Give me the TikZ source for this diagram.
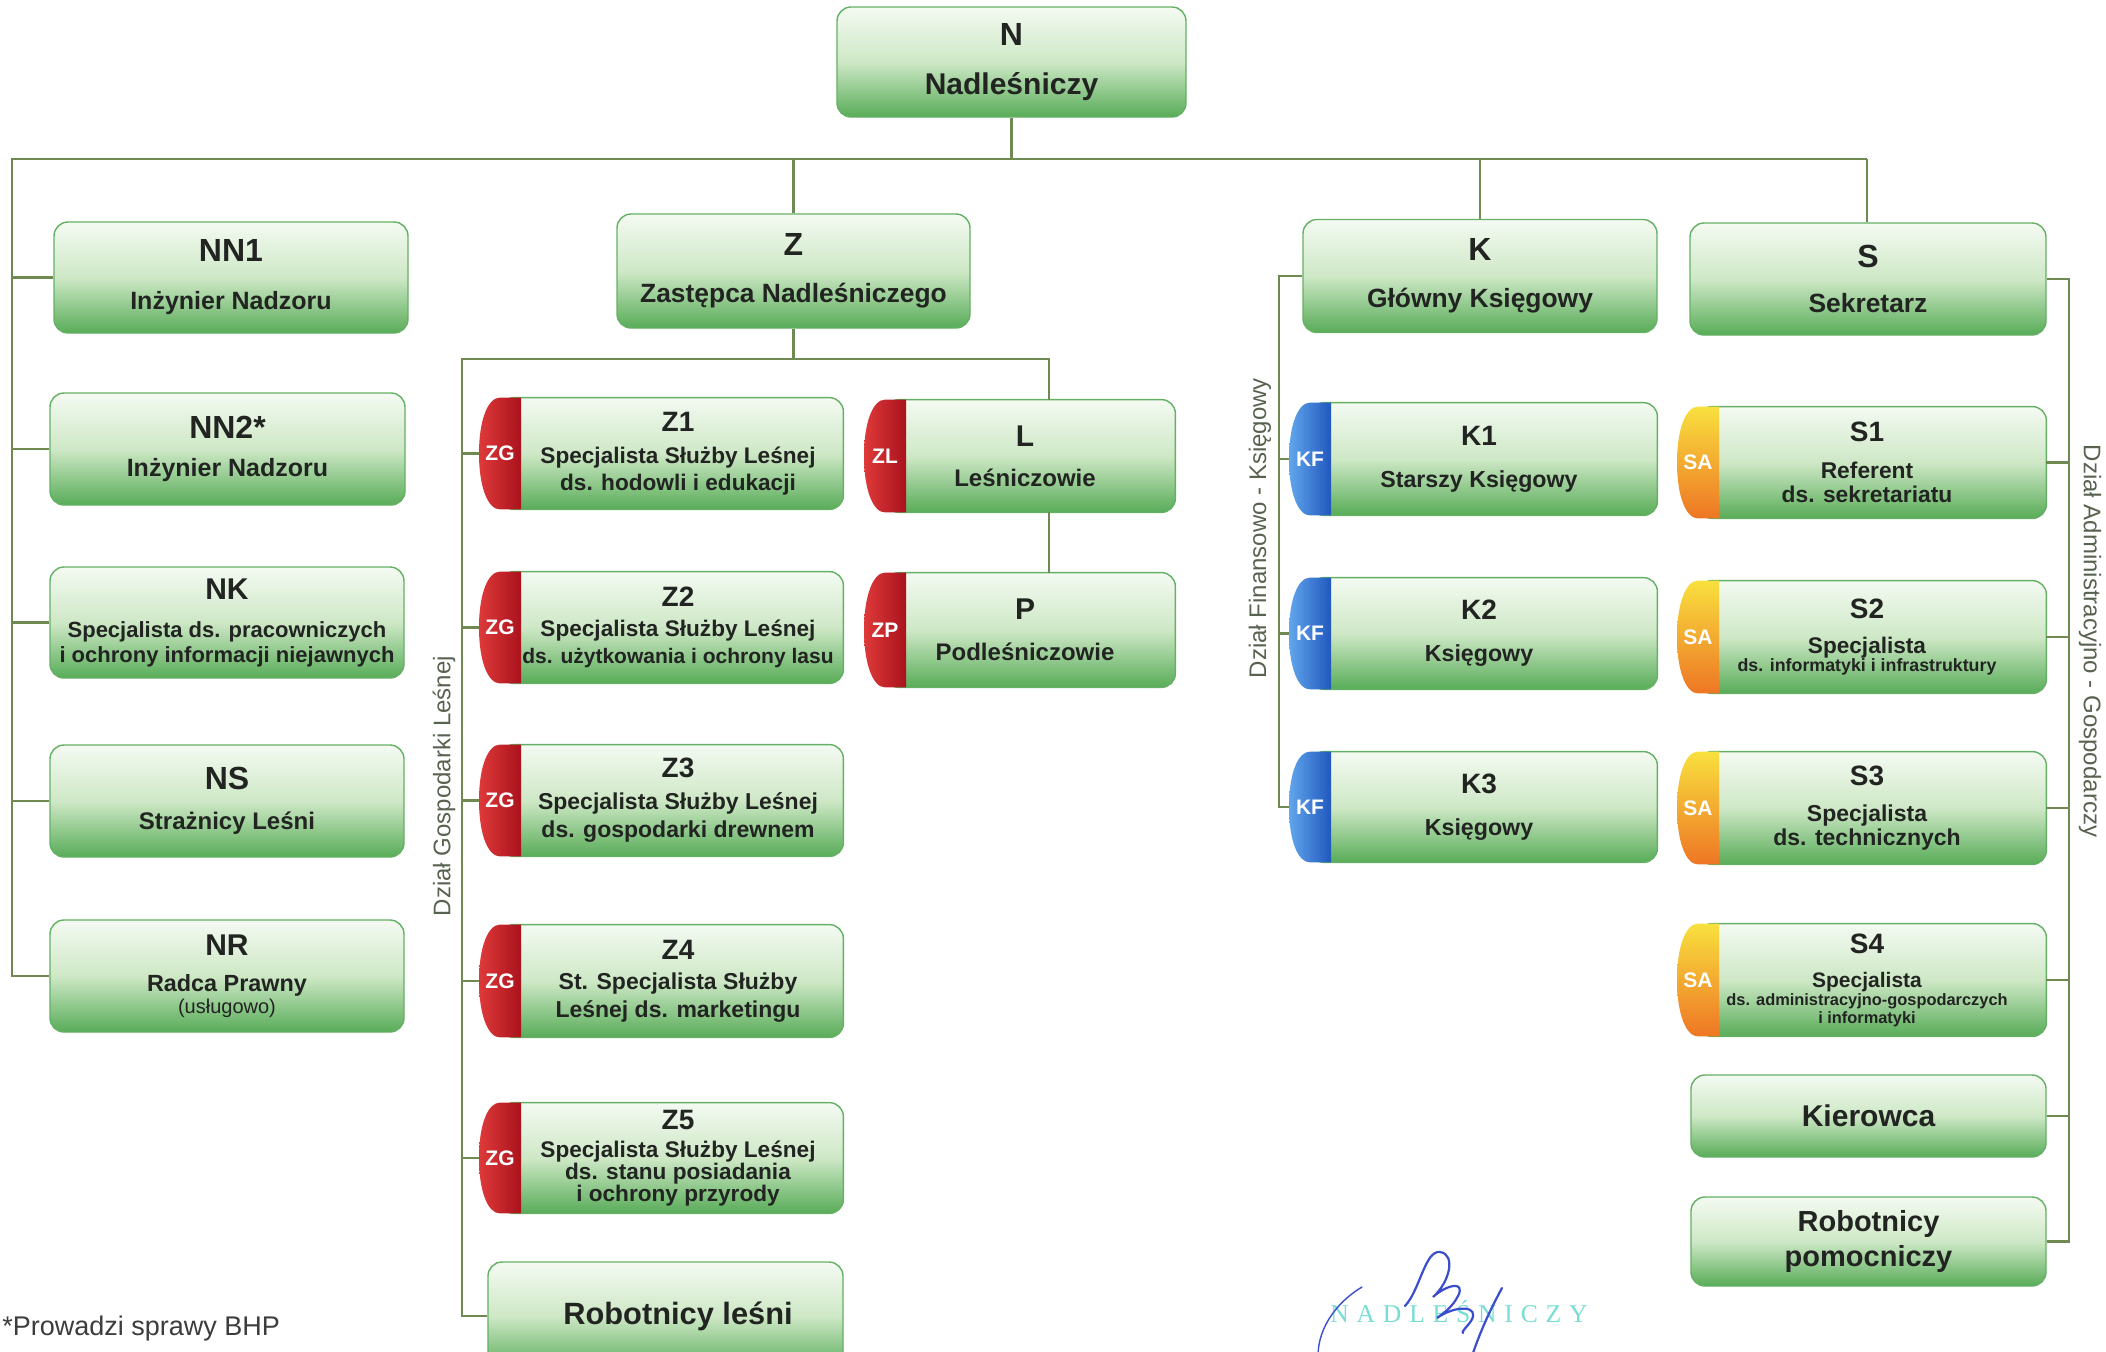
\documentclass[tikz,border=0pt]{standalone}
\usepackage{fontspec}
\setmainfont{Liberation Sans}
\newfontfamily\sigfont{Liberation Serif}
\usetikzlibrary{calc,backgrounds}
\definecolor{gtop}{RGB}{244,250,242}
\definecolor{gmid}{RGB}{206,232,198}
\definecolor{gbot}{RGB}{88,172,88}
\definecolor{gborder}{RGB}{100,176,100}
\definecolor{txtc}{RGB}{34,36,34}
\definecolor{lineg}{RGB}{110,138,82}
\definecolor{redL}{RGB}{222,58,58}
\definecolor{redR}{RGB}{170,18,28}
\definecolor{bluL}{RGB}{98,166,236}
\definecolor{bluR}{RGB}{32,88,190}
\definecolor{yelT}{RGB}{248,224,62}
\definecolor{orgB}{RGB}{238,118,36}
\definecolor{deptc}{RGB}{88,98,80}
\definecolor{sigblue}{RGB}{58,78,205}
\definecolor{sigcyan}{RGB}{120,222,212}
\definecolor{fnc}{RGB}{60,60,60}

\newcommand\fs[2]{\fontsize{#1}{#2}\selectfont\bfseries}
\newcommand\ttlx[2]{{\fontsize{#1}{#1}\selectfont #2}}

\tikzset{
  gfill/.style={top color=gtop,bottom color=gbot,middle color=gmid},
  gbox/.style={rectangle,rounded corners=7pt,draw=gborder,line width=0.7pt,gfill,inner sep=0pt,align=center,text=txtc},
  tbox/.style={rectangle,inner sep=0pt,align=center,text=txtc},
  conn/.style={draw=lineg,line width=1.3pt},
  tablab/.style={text=white,font=\fs{10.5}{10.5},inner sep=0pt},
  redtab/.style={left color=redL,right color=redR},
  bluetab/.style={left color=bluL,right color=bluR},
  yeltab/.style={top color=yelT,bottom color=orgB},
  dept/.style={text=deptc,font=\fontsize{12}{12}\selectfont,inner sep=0pt},
  sig/.style={draw=sigblue,line width=1.1pt,line cap=round}
}

% #1 text node (its east is the box's right edge), #2 tab style, #3 tab label,
% #4 tab node name, #5 x of the box's left edge (tab's outermost point)
\newcommand\tabbg[5]{%
  \coordinate (#4x) at (#5,0);
  \begin{scope}[on background layer]
    \path[gfill,draw=gborder,line width=0.7pt,rounded corners=7pt]
      ($(#1.north -| #4x)+(21,0)$) rectangle (#1.south east);
    \path[#2] ($(#1.north -| #4x)+(42,0)$) -- ($(#1.north -| #4x)+(21,0)$)
      .. controls ($(#1.north -| #4x)+(9,0)$) and ($(#1.center -| #4x)+(0,-34)$) .. (#1.center -| #4x)
      .. controls ($(#1.center -| #4x)+(0,34)$) and ($(#1.south -| #4x)+(9,0)$) .. ($(#1.south -| #4x)+(21,0)$)
      -- ($(#1.south -| #4x)+(42,0)$) -- cycle;
  \end{scope}
  \node[tablab,minimum width=21pt,minimum height=10pt] (#4) at ($(#1.center -| #4x)+(21,0)$) {#3};
}

\begin{document}
\begin{tikzpicture}[x=0.5pt,y=-0.5pt]
\useasboundingbox (0,0) rectangle (2106,1351);
\clip (0,0) rectangle (2106,1351);

% ---------- top level ----------
\node[gbox,minimum width=174.5pt,minimum height=55pt,font={\fs{15}{24.5}}] (N) at (1011.5,62) {\ttlx{16}{N}\\Nadleśniczy};

\node[gbox,minimum width=177pt,minimum height=55.5pt,font={\fs{12.5}{24}}] (NN1) at (231,277.5) {\ttlx{16}{NN1}\\Inżynier Nadzoru};
\node[gbox,minimum width=177.5pt,minimum height=56pt,font={\fs{12.5}{19}}] (NN2) at (227.5,449) {\ttlx{16}{NN2*}\\Inżynier Nadzoru};
\node[gbox,minimum width=177pt,minimum height=55.5pt,font={\fs{11}{12.5}}] (NK) at (227,622.5) {\ttlx{15}{NK}\\[6.5pt]Specjalista ds. pracowniczych\\i ochrony informacji niejawnych};
\node[gbox,minimum width=177pt,minimum height=56pt,font={\fs{12}{20}}] (NS) at (227,801) {\ttlx{16}{NS}\\Strażnicy Leśni};
\node[gbox,minimum width=177pt,minimum height=56pt,font={\fs{11.7}{11}}] (NR) at (227,976) {\ttlx{15}{NR}\\[7pt]Radca Prawny\\{\mdseries\fontsize{10}{10}\selectfont(usługowo)}};

\node[gbox,minimum width=176.5pt,minimum height=57pt,font={\fs{13.2}{23.5}}] (Z) at (793.5,271) {\ttlx{16}{Z}\\Zastępca Nadleśniczego};
\node[gbox,minimum width=177pt,minimum height=56.5pt,font={\fs{13.2}{23.5}}] (K) at (1480,276) {\ttlx{16}{K}\\Główny Księgowy};
\node[gbox,minimum width=178pt,minimum height=56pt,font={\fs{13.2}{22.5}}] (S) at (1868,279) {\ttlx{16}{S}\\Sekretarz};

% ---------- Z column ----------
\node[tbox,minimum width=165pt,minimum height=55.5pt,font={\fs{11.3}{13.5}}] (Z1) at (678,453.5) {\ttlx{14}{Z1}\\[2.5pt]Specjalista Służby Leśnej\\ds. hodowli i edukacji};
\tabbg{Z1}{redtab}{ZG}{Z1t}{479}
\node[tbox,minimum width=165pt,minimum height=55.5pt,font={\fs{11.3}{13.5}}] (Z2) at (678,627.5) {\ttlx{14}{Z2}\\[1.5pt]Specjalista Służby Leśnej\\{\fontsize{10.5}{10.5}\selectfont ds. użytkowania i ochrony lasu}};
\tabbg{Z2}{redtab}{ZG}{Z2t}{479}
\node[tbox,minimum width=165pt,minimum height=55.5pt,font={\fs{11.5}{14}}] (Z3) at (678,800.5) {\ttlx{14}{Z3}\\[2pt]Specjalista Służby Leśnej\\ds. gospodarki drewnem};
\tabbg{Z3}{redtab}{ZG}{Z3t}{479}
\node[tbox,minimum width=165pt,minimum height=56pt,font={\fs{11.5}{14}}] (Z4) at (678,981) {\ttlx{14}{Z4}\\[1pt]St. Specjalista Służby\\Leśnej ds. marketingu};
\tabbg{Z4}{redtab}{ZG}{Z4t}{479}
\node[tbox,minimum width=165pt,minimum height=55pt,font={\fs{11.3}{11}}] (Z5) at (678,1158) {\ttlx{14}{Z5}\\[3pt]Specjalista Służby Leśnej\\ds. stanu posiadania\\i ochrony przyrody};
\tabbg{Z5}{redtab}{ZG}{Z5t}{479}
\node[gbox,minimum width=177.5pt,minimum height=54pt,font={\fs{15.4}{16}}] (RL) at (665.5,1316) {\hspace*{12.5pt}Robotnicy leśni};

\node[tbox,minimum width=150pt,minimum height=56pt,font={\fs{12}{20}}] (L) at (1025,456) {\ttlx{15}{L}\\Leśniczowie};
\tabbg{L}{redtab}{ZL}{Lt}{864}
\node[tbox,minimum width=150pt,minimum height=57pt,font={\fs{12}{20.5}}] (P) at (1025,630) {\ttlx{15}{P}\\Podleśniczowie};
\tabbg{P}{redtab}{ZP}{Pt}{864}

% ---------- K column ----------
\node[tbox,minimum width=178pt,minimum height=56pt,font={\fs{11.6}{21}}] (K1) at (1479,459) {\ttlx{14}{K1}\\Starszy Księgowy};
\tabbg{K1}{bluetab}{KF}{K1t}{1289}
\node[tbox,minimum width=178pt,minimum height=55.5pt,font={\fs{11.6}{21}}] (K2) at (1479,633.5) {\ttlx{14}{K2}\\Księgowy};
\tabbg{K2}{bluetab}{KF}{K2t}{1289}
\node[tbox,minimum width=178pt,minimum height=55pt,font={\fs{11.6}{21}}] (K3) at (1479,807) {\ttlx{14}{K3}\\Księgowy};
\tabbg{K3}{bluetab}{KF}{K3t}{1289}

% ---------- S column ----------
\node[tbox,minimum width=179pt,minimum height=55.5pt,font={\fs{11.4}{12}}] (S1) at (1867,462.5) {\ttlx{14}{S1}\\[6.5pt]Referent\\ds. sekretariatu};
\tabbg{S1}{yeltab}{SA}{S1t}{1677}
\node[tbox,minimum width=179pt,minimum height=56pt,font={\fs{11.3}{9}}] (S2) at (1867,637) {\ttlx{14}{S2}\\[8.5pt]Specjalista\\{\fontsize{8.9}{8.9}\selectfont ds. informatyki i infrastruktury}};
\tabbg{S2}{yeltab}{SA}{S2t}{1677}
\node[tbox,minimum width=179pt,minimum height=56pt,font={\fs{11.5}{12}}] (S3) at (1867,808) {\ttlx{14}{S3}\\[6pt]Specjalista\\ds. technicznych};
\tabbg{S3}{yeltab}{SA}{S3t}{1677}
\node[tbox,minimum width=179pt,minimum height=56pt,font={\fs{10.5}{9}}] (S4) at (1867,980) {\ttlx{14}{S4}\\[8pt]Specjalista\\{\fontsize{8.2}{8.2}\selectfont ds. administracyjno-gospodarczych}\\{\fontsize{8.2}{8.2}\selectfont i informatyki}};
\tabbg{S4}{yeltab}{SA}{S4t}{1677}
\node[gbox,minimum width=177.5pt,minimum height=41pt,font={\fs{15}{16}}] (KR) at (1868.5,1116) {Kierowca};
\node[gbox,minimum width=177.5pt,minimum height=44.5pt,font={\fs{14.5}{17.5}}] (RP) at (1868.5,1241.5) {Robotnicy\\pomocniczy};

% ---------- connectors ----------
\coordinate (busL) at (12,159);
\coordinate (busR) at (1867,159);
\coordinate (zL) at (462,359);
\coordinate (zR) at (1049,359);
\coordinate (kx) at (1279,0);
\coordinate (sx) at (2069,0);

\draw[conn] (busR) -- (busL) |- (NR.west);
\draw[conn] (N.south) -- (N.south |- busL);
\draw[conn] (Z.north) -- (Z.north |- busL);
\draw[conn] (K.north) -- (K.north |- busL);
\draw[conn] (busR) -- (S.north -| busR);
\foreach \n in {NN1,NN2,NK,NS} \draw[conn] (\n.west) -- (\n.west -| busL);

\draw[conn] (Z.south) -- (Z.south |- zL);
\draw[conn] (RL.west) -| (zL) -- (zR) -- (zR |- L.north);
\draw[conn] (zR |- L.south) -- (zR |- P.north);
\foreach \n in {Z1t,Z2t,Z3t,Z4t,Z5t} \draw[conn] (\n.west) -- (\n.west -| zL);

\draw[conn] (K.west) -| (kx |- K3t.west) -- (K3t.west);
\foreach \n in {K1t,K2t} \draw[conn] (\n.west) -- (\n.west -| kx);

\draw[conn] (S.east) -| (sx |- RP.east) -- (RP.east);
\foreach \n in {S1,S2,S3,S4,KR} \draw[conn] (\n.east) -- (\n.east -| sx);

% ---------- department labels ----------
\node[dept,rotate=90] (dGL) at (444,786) {Dział Gospodarki Leśnej};
\node[dept,rotate=90] (dFK) at (1260,528) {Dział Finansowo - Księgowy};
\node[dept,rotate=-90] (dAG) at (2090,641) {Dział Administracyjno - Gospodarczy};

% ---------- footnote ----------
\node[anchor=base west,inner sep=0pt,text=fnc,font=\fontsize{13.5}{14}\selectfont] (fn) at (2,1335) {*Prowadzi sprawy BHP};

% ---------- stamp and signature ----------
\node[anchor=base west,inner sep=0pt,text=sigcyan,font=\sigfont\fontsize{12.8}{13}\selectfont] (stamp) at (1330,1322)
  {N\kern3.9pt A\kern3.9pt D\kern3.9pt L\kern3.9pt E\kern3.9pt Ś\kern3.9pt N\kern3.9pt I\kern3.9pt C\kern3.9pt Z\kern3.9pt Y};
\draw[sig,line width=0.7pt] (1318,1356) .. controls (1318,1325) and (1340,1300) .. (1362,1287);
\draw[sig] (1405,1306) .. controls (1420,1290) and (1425,1250) .. (1440,1252)
  .. controls (1456,1254) and (1450,1282) .. (1433,1297)
  .. controls (1446,1285) and (1466,1280) .. (1458,1296)
  .. controls (1452,1308) and (1442,1314) .. (1437,1318)
  .. controls (1455,1305) and (1481,1305) .. (1471,1321)
  .. controls (1466,1328) and (1461,1332) .. (1463,1333);
\draw[sig] (1502,1288) .. controls (1490,1310) and (1480,1332) .. (1472,1356);
\end{tikzpicture}
\end{document}
